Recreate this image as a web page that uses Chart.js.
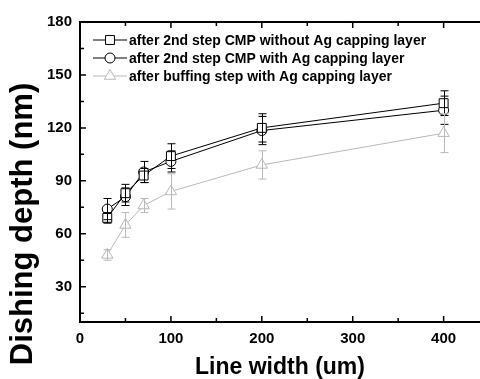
<!DOCTYPE html>
<html>
<head>
<meta charset="utf-8">
<script src="https://cdn.jsdelivr.net/npm/chart.js@4"></script>
<style>
  html, body { margin: 0; padding: 0; background: #fff; }
  #wrap { width: 480px; height: 379px; }
</style>
</head>
<body>
<div id="wrap"><canvas id="chart" width="480" height="379"></canvas></div>
<script>
// line widths (um)
const lineWidths = [30, 50, 70, 100, 200, 400];

// dishing depth (nm) + error
const noCap = [69, 83, 93, 104, 120, 134];
const noCapErr = [3, 5, 4, 7, 8, 7];
const withCap = [74, 81, 95, 101, 118.5, 130];
const withCapErr = [6, 5, 6, 6, 8, 8];
const buffing = [48, 65, 76, 84, 99, 117];
const buffingErr = [3, 7, 4, 10, 8, 11];

const legendLabels = [
  'after 2nd step CMP without Ag capping layer',
  'after 2nd step CMP with Ag capping layer',
  'after buffing step with Ag capping layer'
];

const yTicks = [15, 30, 45, 60, 75, 90, 105, 120, 135, 150, 165, 180];
const xTicks = [0, 50, 100, 150, 200, 250, 300, 350, 400];

const GRAY = '#b9b9b9';
const FONT = 'Liberation Sans, Arial, sans-serif';

function toPoints(vals) {
  return lineWidths.map((x, i) => ({ x: x, y: vals[i] }));
}

function marker(ctx, style, x, y, r) {
  ctx.beginPath();
  if (style === 'rect') {
    const s = r * Math.SQRT1_2;
    ctx.rect(x - s, y - s, 2 * s, 2 * s);
  } else if (style === 'circle') {
    ctx.arc(x, y, r, 0, Math.PI * 2);
  } else {
    const w = r * Math.sqrt(3) / 2;
    ctx.moveTo(x, y - r);
    ctx.lineTo(x + w, y + r / 2);
    ctx.lineTo(x - w, y + r / 2);
    ctx.closePath();
  }
  ctx.fill();
  ctx.stroke();
}

// error bars, inward ticks, top frame, y title and legend
const extras = {
  id: 'extras',
  afterDatasetsDraw(chart) {
    const ctx = chart.ctx;
    const xs = chart.scales.x, ys = chart.scales.y;
    ctx.save();
    chart.data.datasets.forEach(ds => {
      ctx.strokeStyle = ds.borderColor;
      ctx.lineWidth = 1;
      ds.data.forEach((p, i) => {
        const e = ds.errors[i];
        const px = Math.round(xs.getPixelForValue(p.x)) + 0.5;
        const top = ys.getPixelForValue(p.y + e);
        const bot = ys.getPixelForValue(p.y - e);
        ctx.beginPath();
        ctx.moveTo(px, top); ctx.lineTo(px, bot);
        ctx.moveTo(px - 4, top); ctx.lineTo(px + 4, top);
        ctx.moveTo(px - 4, bot); ctx.lineTo(px + 4, bot);
        ctx.stroke();
      });
    });
    ctx.restore();
  },
  afterDraw(chart) {
    const ctx = chart.ctx;
    const a = chart.chartArea;
    const xs = chart.scales.x, ys = chart.scales.y;
    ctx.save();
    ctx.strokeStyle = '#000';
    ctx.lineWidth = 2;
    ctx.beginPath();
    ctx.moveTo(a.left, a.top); ctx.lineTo(a.right, a.top);
    ctx.stroke();

    ctx.lineWidth = 1.5;
    ctx.beginPath();
    xTicks.forEach(v => {
      const px = xs.getPixelForValue(v);
      const len = v % 100 === 0 ? 6 : 4;
      ctx.moveTo(px, a.bottom); ctx.lineTo(px, a.bottom - len);
      ctx.moveTo(px, a.top); ctx.lineTo(px, a.top + len);
    });
    yTicks.forEach(v => {
      const py = ys.getPixelForValue(v);
      const len = v % 30 === 0 ? 6 : 4;
      ctx.moveTo(a.left, py); ctx.lineTo(a.left + len, py);
    });
    ctx.stroke();

    // y axis title (sits lower than the plot centre in the original)
    ctx.save();
    ctx.translate(23, 224);
    ctx.rotate(-Math.PI / 2);
    ctx.font = 'bold 31px ' + FONT;
    ctx.fillStyle = '#000';
    ctx.textAlign = 'center';
    ctx.textBaseline = 'middle';
    ctx.fillText('Dishing depth (nm)', 0, 0);
    ctx.restore();

    // legend
    ctx.font = 'bold 14px ' + FONT;
    ctx.textBaseline = 'middle';
    chart.data.datasets.forEach((ds, i) => {
      const y = 40 + i * 18;
      ctx.strokeStyle = ds.borderColor;
      ctx.lineWidth = 1;
      ctx.beginPath();
      ctx.moveTo(93, y); ctx.lineTo(127, y);
      ctx.stroke();
      ctx.fillStyle = '#fff';
      marker(ctx, ds.pointStyle, 110, y, ds.pointRadius);
      ctx.fillStyle = '#000';
      ctx.fillText(legendLabels[i], 129, y + 1);
    });
    ctx.restore();
  }
};

const ctx = document.getElementById('chart').getContext('2d');

const baseSet = {
  borderWidth: 1,
  pointBackgroundColor: '#fff',
  pointBorderWidth: 1,
  pointHoverRadius: 6,
  tension: 0,
  fill: false
};

new Chart(ctx, {
  type: 'line',
  data: {
    datasets: [
      Object.assign({}, baseSet, {
        label: legendLabels[0], data: toPoints(noCap), errors: noCapErr,
        borderColor: '#000', pointBorderColor: '#000', pointStyle: 'rect', pointRadius: 6.3
      }),
      Object.assign({}, baseSet, {
        label: legendLabels[1], data: toPoints(withCap), errors: withCapErr,
        borderColor: '#000', pointBorderColor: '#000', pointStyle: 'circle', pointRadius: 5
      }),
      Object.assign({}, baseSet, {
        label: legendLabels[2], data: toPoints(buffing), errors: buffingErr,
        borderColor: GRAY, pointBorderColor: GRAY, pointStyle: 'triangle', pointRadius: 6.5
      })
    ]
  },
  options: {
    responsive: false,
    animation: false,
    layout: { autoPadding: false, padding: { top: 22, right: 0, left: 0, bottom: 0 } },
    plugins: {
      legend: { display: false },
      tooltip: { enabled: false }
    },
    scales: {
      x: {
        type: 'linear',
        min: 0,
        max: 440,
        afterBuildTicks: s => { s.ticks = xTicks.map(v => ({ value: v })); },
        afterFit: s => { s.height = 57; s.paddingLeft = 0; s.paddingRight = 0; },
        grid: { display: false, drawTicks: false },
        border: { display: true, color: '#000', width: 2 },
        ticks: {
          color: '#000',
          padding: 8,
          maxRotation: 0,
          autoSkip: false,
          font: { family: FONT, size: 15, weight: 'bold' },
          callback: v => (v % 100 === 0 ? v : '')
        },
        title: {
          display: true,
          text: 'Line width (um)',
          color: '#000',
          font: { family: FONT, size: 23, weight: 'bold', lineHeight: 1 },
          padding: { top: 1, bottom: 0 }
        }
      },
      y: {
        min: 10,
        max: 180,
        afterBuildTicks: s => { s.ticks = yTicks.map(v => ({ value: v })); },
        afterFit: s => { s.width = 80; s.paddingTop = 0; s.paddingBottom = 0; },
        grid: { display: false, drawTicks: false },
        border: { display: true, color: '#000', width: 2 },
        ticks: {
          color: '#000',
          padding: 8,
          autoSkip: false,
          font: { family: FONT, size: 15, weight: 'bold' },
          callback: v => (v % 30 === 0 ? v : '')
        }
      }
    }
  },
  plugins: [extras]
});
</script>
</body>
</html>
